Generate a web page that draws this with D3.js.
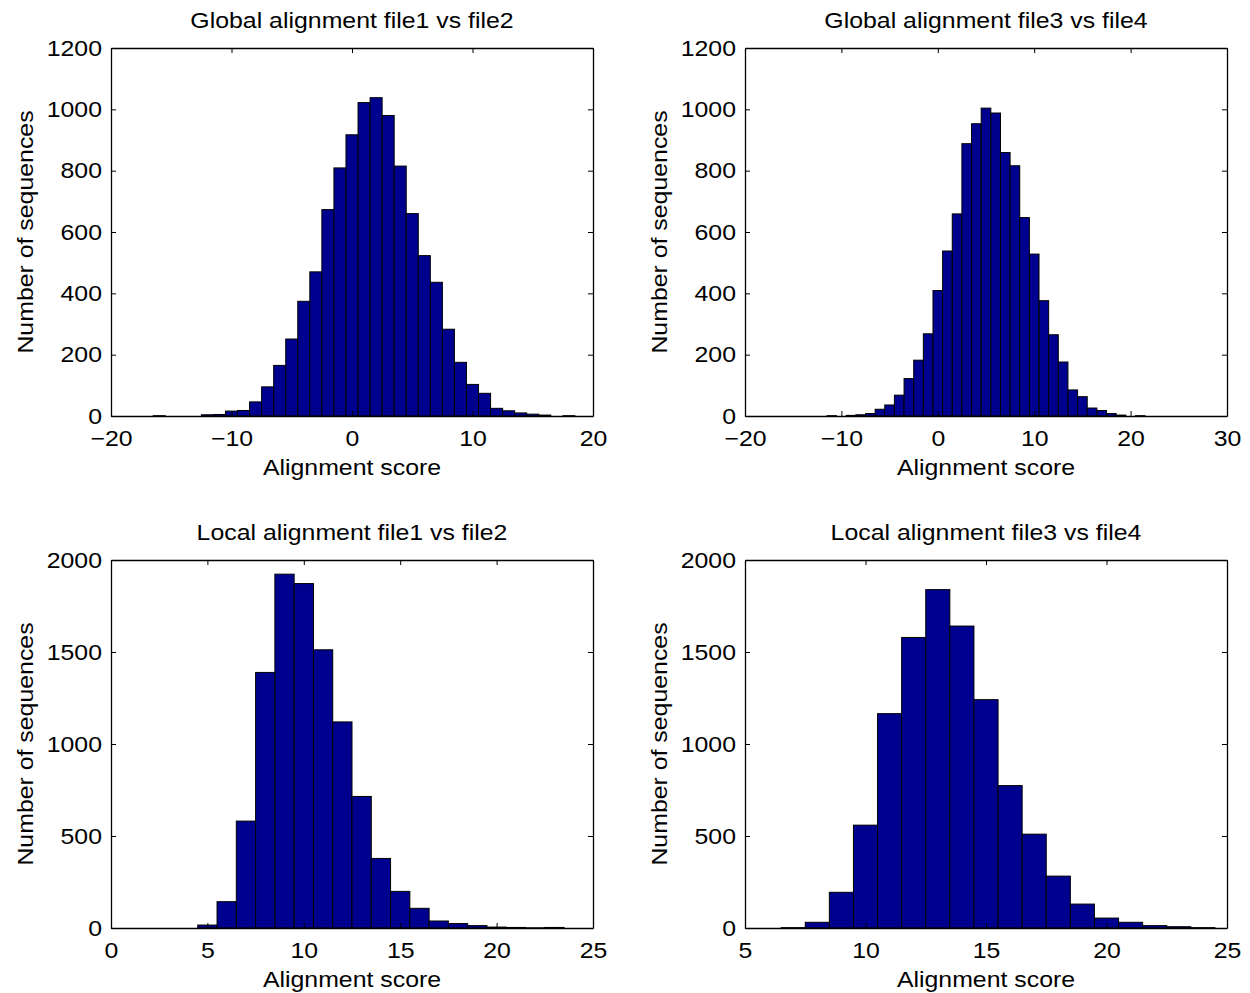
<!DOCTYPE html>
<html>
<head>
<meta charset="utf-8">
<script src="https://cdn.jsdelivr.net/npm/d3@7"></script>
<style>
  body { margin: 0; background: #fff; }
  text { font-family: "Liberation Sans", Arial, sans-serif; fill: #000; }
</style>
</head>
<body>
<svg id="chart" width="1250" height="993"></svg>
<script>
// bin centres and counts
const global12Centers = d3.range(-16, 19);
const global12Counts = [1, 0, 0, 0, 4, 5, 16, 18, 46, 95, 165, 251, 374, 470, 673, 809, 917, 1022, 1038, 980, 815, 660, 523, 436, 283, 175, 103, 74, 25, 17, 10, 6, 3, 0, 1];

const global34Centers = d3.range(-11, 22);
const global34Counts = [1, 0, 2, 4, 8, 22, 36, 68, 122, 182, 268, 409, 538, 659, 888, 953, 1004, 988, 859, 816, 647, 528, 376, 265, 176, 85, 63, 26, 18, 8, 3, 0, 1];

const local12Centers = d3.range(5, 24);
const local12Counts = [16, 143, 581, 1389, 1923, 1872, 1512, 1120, 715, 378, 199, 107, 38, 24, 13, 5, 3, 1, 3];

const local34Centers = d3.range(7, 25);
const local34Counts = [2, 31, 194, 559, 1165, 1579, 1839, 1641, 1241, 774, 510, 282, 130, 54, 31, 13, 7, 2];

const titles = ["Global alignment file1 vs file2", "Global alignment file3 vs file4",
                "Local alignment file1 vs file2", "Local alignment file3 vs file4"];
const xDomains = [[-20, 20], [-20, 30], [0, 25], [5, 25]];
const yDomains = [[0, 1200], [0, 1200], [0, 2000], [0, 2000]];
const xTicks = [[-20, -10, 0, 10, 20], [-20, -10, 0, 10, 20, 30], [0, 5, 10, 15, 20, 25], [5, 10, 15, 20, 25]];
const yTicks = [[0, 200, 400, 600, 800, 1000, 1200], [0, 200, 400, 600, 800, 1000, 1200],
                [0, 500, 1000, 1500, 2000], [0, 500, 1000, 1500, 2000]];

const panels = [
    { centers: global12Centers, counts: global12Counts },
    { centers: global34Centers, counts: global34Counts },
    { centers: local12Centers, counts: local12Counts },
    { centers: local34Centers, counts: local34Counts }
];

const svg = d3.select("#chart");
const lefts = [111, 745];
const tops = [48, 560];
const w = 482, h = 368;
const fontSize = 22;
const stretch = 1.13; // the reference's text is drawn a bit wider than Arial
const fmt = d3.format("d");

panels.forEach((p, i) => {
    let g = svg.append("g")
        .attr("transform", `translate(${lefts[i % 2]},${tops[Math.floor(i / 2)]})`);

    let x = d3.scaleLinear().domain(xDomains[i]).range([0, w]);
    let y = d3.scaleLinear().domain(yDomains[i]).range([h, 0]);

    // bars (bin width 1)
    g.selectAll("rect.bar")
        .data(p.counts)
        .enter()
        .append("rect")
        .attr("class", "bar")
        .attr("x", (d, k) => x(p.centers[k] - 0.5))
        .attr("width", (d, k) => x(p.centers[k] + 0.5) - x(p.centers[k] - 0.5))
        .attr("y", d => y(d))
        .attr("height", d => h - y(d))
        .attr("fill", "#00008f")
        .attr("stroke", "#000")
        .attr("stroke-width", 1);

    // axes, ticks pointing inward
    g.append("g")
        .attr("transform", `translate(0,${h})`)
        .call(d3.axisBottom(x).tickValues(xTicks[i]).tickFormat(fmt).tickSizeInner(-5).tickSizeOuter(0).tickPadding(14));
    g.append("g")
        .call(d3.axisLeft(y).tickValues(yTicks[i]).tickFormat(fmt).tickSizeInner(-5).tickSizeOuter(0).tickPadding(9 / stretch));
    g.append("g")
        .call(d3.axisTop(x).tickValues(xTicks[i]).tickSizeInner(-5).tickSizeOuter(0).tickFormat(""));
    g.append("g")
        .attr("transform", `translate(${w},0)`)
        .call(d3.axisRight(y).tickValues(yTicks[i]).tickSizeInner(-5).tickSizeOuter(0).tickFormat(""));

    g.selectAll(".domain").attr("stroke", "#000").attr("stroke-width", 1.3);
    g.selectAll(".tick line").attr("stroke", "#000");
    g.selectAll(".tick text")
        .attr("font-size", fontSize)
        .attr("font-family", null)
        .attr("transform", `scale(${stretch},1)`);

    // titles and labels
    g.append("text")
        .attr("transform", `translate(${w / 2},-20) scale(${stretch},1)`)
        .attr("text-anchor", "middle")
        .attr("font-size", fontSize)
        .text(titles[i]);

    g.append("text")
        .attr("transform", `translate(${w / 2},${h + 59}) scale(${stretch},1)`)
        .attr("text-anchor", "middle")
        .attr("font-size", fontSize)
        .text("Alignment score");

    g.append("text")
        .attr("transform", `translate(-78,${h / 2}) rotate(-90) scale(${stretch},1)`)
        .attr("text-anchor", "middle")
        .attr("font-size", fontSize)
        .text("Number of sequences");
});
</script>
</body>
</html>
